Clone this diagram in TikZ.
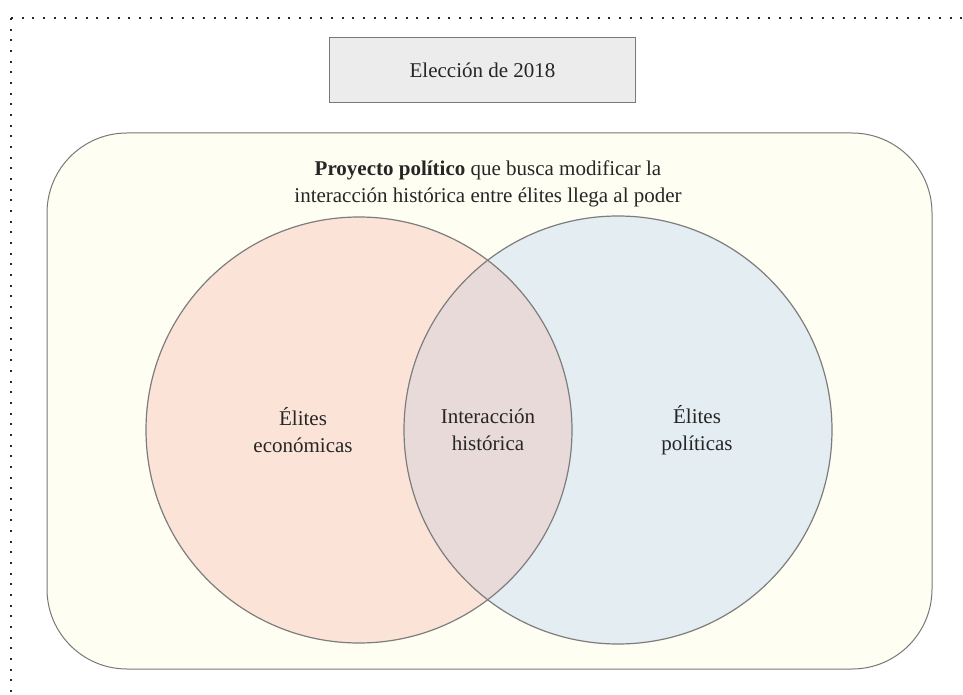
\documentclass[tikz,border=0pt]{standalone}
\usepackage{fontspec}
\setmainfont{Liberation Serif}

\tikzset{every picture/.style={line width=0.75pt}}
\tikzset{
  texto/.style={inner sep=0.75pt, align=center, font=\fontsize{15.75}{20}\selectfont, text={rgb, 255:red, 38; green, 38; blue, 38 }},
  caja/.style={draw={rgb, 255:red, 120; green, 120; blue, 120 }, fill={rgb, 255:red, 236; green, 236; blue, 236 }, minimum width=229.5pt, minimum height=48.75pt, inner sep=0pt},
  marco/.style={draw={rgb, 255:red, 120; green, 120; blue, 120 }, fill={rgb, 255:red, 254; green, 254; blue, 242 }, rounded corners=60pt, minimum width=663.75pt, minimum height=402pt},
  borde/.style={color={rgb, 255:red, 40; green, 40; blue, 40 }, line width=1.5pt, dash pattern=on 1.5pt off 6.5pt},
  contorno/.style={draw={rgb, 255:red, 125; green, 125; blue, 125 }, line width=0.9pt}
}

\begin{document}
\begin{tikzpicture}[x=0.75pt,y=0.75pt,yscale=-1,xscale=1]
\useasboundingbox (0,0) rectangle (963,695);

%Dotted border
\draw [borde] (11,18) -- (963,18) ;
\draw [borde] (11,18) -- (11,695) ;

%Rounded rectangle
\node [marco] (fondo) at (489.5,401) {};

%Circles
\fill [color={rgb, 255:red, 251; green, 228; blue, 215 }] (359,430) circle (213) ;
\fill [color={rgb, 255:red, 227; green, 237; blue, 242 }] (618,430) circle (214) ;
\begin{scope}
\clip (359,430) circle (213) ;
\fill [color={rgb, 255:red, 232; green, 218; blue, 216 }] (618,430) circle (214) ;
\end{scope}
\draw [contorno] (359,430) circle (213) ;
\draw [contorno] (618,430) circle (214) ;

%Title box
\node [caja] (eleccion) at (482.5,70.5) {};

% Text Node
\node [texto] (tituloTxt) at (eleccion.center) {Elección de 2018};
% Text Node
\node [texto] (proyecto) at (488,184) {\textbf{Proyecto político} que busca modificar la\\interacción histórica entre élites llega al poder};
% Text Node
\node [texto] (economicas) at (303,430) {Élites\\económicas};
% Text Node
\node [texto] (interaccion) at (488,430) {Interacción\\histórica};
% Text Node
\node [texto] (politicas) at (697,430) {Élites\\políticas};

\end{tikzpicture}
\end{document}
